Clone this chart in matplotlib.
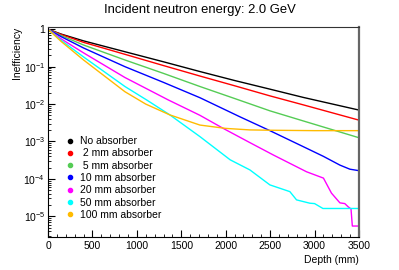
import math
import matplotlib
matplotlib.use("Agg")
import matplotlib.pyplot as plt
from matplotlib.lines import Line2D
from matplotlib.ticker import FixedLocator, FuncFormatter, LogLocator, MultipleLocator

plt.rcParams['font.family'] = ['Liberation Sans', 'DejaVu Sans']
plt.rcParams['mathtext.default'] = 'regular'

# depth (mm) / inefficiency, one series per absorber
no_abs_depth = [0, 150, 400, 866, 1300, 1710, 2100, 2497, 2872, 3500]
no_abs_val = [1, 0.741, 0.490, 0.251, 0.135, 0.0741, 0.0427, 0.0251, 0.0151, 0.00692]

abs2_depth = [0, 150, 400, 866, 1300, 1710, 2100, 2497, 2872, 3500]
abs2_val = [1, 0.724, 0.447, 0.214, 0.107, 0.0562, 0.0309, 0.0166, 0.00955, 0.00372]

abs5_depth = [0, 150, 400, 866, 1300, 1710, 2100, 2497, 2872, 3500]
abs5_val = [1, 0.676, 0.380, 0.151, 0.0661, 0.0295, 0.0141, 0.00661, 0.00355, 0.00126]

abs10_depth = [0, 150, 400, 866, 1300, 1710, 2160, 2497, 2910, 3100, 3285, 3397, 3500]
abs10_val = [1, 0.631, 0.316, 0.1, 0.038, 0.0148, 0.00457, 0.00195, 6.6e-4, 4.0e-4,
             2.34e-4, 1.82e-4, 1.66e-4]

abs20_depth = [0, 150, 400, 866, 1354, 1710, 1972, 2272, 2535, 2910, 3100, 3190, 3285,
               3340, 3380, 3410, 3425, 3500]
abs20_val = [1, 0.550, 0.234, 0.0513, 0.0129, 5.01e-3, 2.24e-3, 9.33e-4, 4.37e-4, 1.55e-4,
             1.05e-4, 4.17e-5, 2.29e-5, 2.19e-5, 1.78e-5, 1.58e-5, 5.5e-6, 5.5e-6]

abs50_depth = [0, 150, 400, 866, 1110, 1372, 1710, 2050, 2272, 2497, 2722, 2797, 2947,
               3000, 3094, 3500]
abs50_val = [1, 0.501, 0.182, 0.0295, 0.0129, 5.13e-3, 1.35e-3, 3.24e-4, 1.74e-4, 6.92e-5,
             4.57e-5, 2.75e-5, 2.24e-5, 2.19e-5, 1.62e-5, 1.62e-5]

abs100_depth = [0, 150, 400, 866, 1100, 1372, 1710, 2000, 2272, 2500, 3000, 3500]
abs100_val = [1, 0.468, 0.151, 0.0214, 0.01, 5.13e-3, 2.75e-3, 2.24e-3, 2.04e-3, 2.0e-3,
              1.95e-3, 1.95e-3]

labels = ['No absorber', ' 2 mm absorber', ' 5 mm absorber', '10 mm absorber',
          '20 mm absorber', '50 mm absorber', '100 mm absorber']
colors = ['black', '#ff0000', '#55cc55', '#0000ff', '#ff00ff', '#00ffff', '#ffbb00']

series = [(no_abs_depth, no_abs_val), (abs2_depth, abs2_val), (abs5_depth, abs5_val),
          (abs10_depth, abs10_val), (abs20_depth, abs20_val), (abs50_depth, abs50_val),
          (abs100_depth, abs100_val)]

fig = plt.figure(figsize=(3.99, 2.70), dpi=100)
ax = fig.add_axes([48 / 399, 33 / 270, 311 / 399, 210 / 270])

for (d, v), c in zip(series, colors):
    ax.plot(d, v, color=c, lw=1.0)

ax.set_yscale('log')
ax.set_xlim(0, 3500)
ax.set_ylim(2.8e-6, 1.15)

ax.xaxis.set_major_locator(MultipleLocator(500))
ax.xaxis.set_minor_locator(MultipleLocator(100))
ax.yaxis.set_major_locator(FixedLocator([1e-5, 1e-4, 1e-3, 1e-2, 1e-1, 1]))
ax.yaxis.set_minor_locator(LogLocator(base=10, subs=range(2, 10)))


def ylab(v, pos):
    if v >= 1:
        return '1'
    return r'$10^{%d}$' % round(math.log10(v))


ax.yaxis.set_major_formatter(FuncFormatter(ylab))
ax.tick_params(which='both', direction='in', top=False, right=False, labelsize=7.5)
ax.tick_params(which='major', length=5, width=0.8)
ax.tick_params(which='minor', length=2.5, width=0.6)
ax.tick_params(axis='x', pad=3)
ax.tick_params(axis='y', pad=2)

ax.spines['right'].set_color('#666666')
ax.spines['right'].set_linewidth(1.6)
ax.spines['top'].set_color('#333333')

ax.set_xlabel('Depth (mm)', fontsize=7.5, loc='right', labelpad=3)
ax.set_ylabel('Inefficiency', fontsize=7.5, loc='top', labelpad=1)
fig.suptitle('Incident neutron energy: 2.0 GeV', fontsize=9.4, y=0.985)

handles = [Line2D([], [], ls='none', marker='o', ms=3, color=c) for c in colors]
ax.legend(handles, labels, loc='upper left', bbox_to_anchor=(0.056, 0.48), frameon=False,
          fontsize=7.5, handlelength=0.8, handletextpad=0.6, labelspacing=0.22,
          borderpad=0, borderaxespad=0)

fig.savefig('out.png', dpi=100)
